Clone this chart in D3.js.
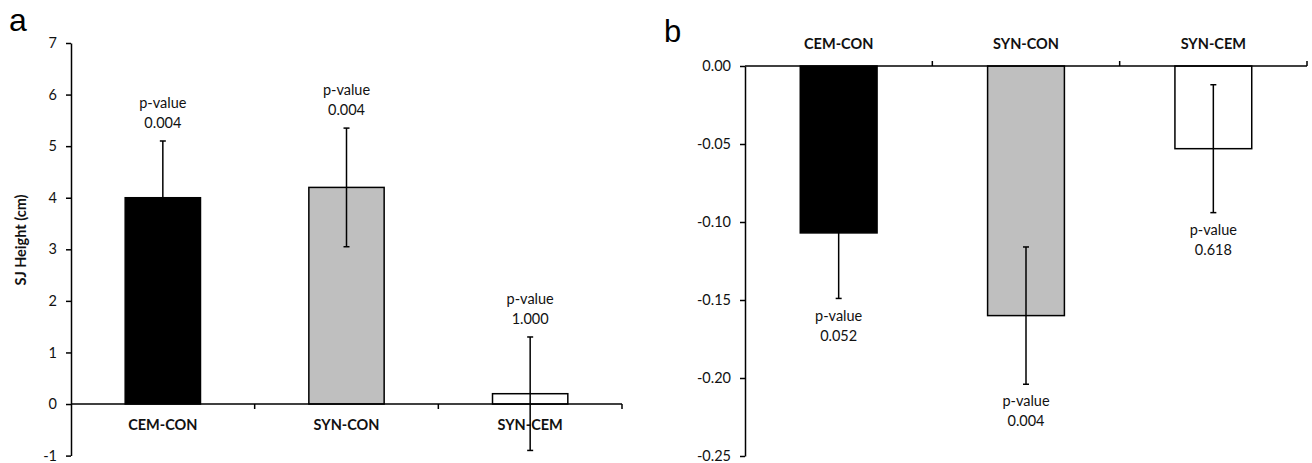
<!DOCTYPE html>
<html>
<head>
<meta charset="utf-8">
<script src="https://cdn.jsdelivr.net/npm/d3@7"></script>
<style>
  body { margin: 0; background: #fff; }
  svg text { font-family: Lato, "Open Sans", sans-serif; fill: #111; }
  .tick text { font-size: 14.5px; }
  .cat { font-size: 14.5px; font-weight: bold; }
  .pval { font-size: 14.5px; }
</style>
</head>
<body>
<div id="chart"></div>
<script>
// chart data
var categories = ["CEM-CON", "SYN-CON", "SYN-CEM"];
var barFills = ["#000000", "#bfbfbf", "#ffffff"];

// panel a: SJ height difference (cm)
var heightDiff = [4.0, 4.2, 0.2];
var heightErr = [1.1, 1.15, 1.1];
var heightP = ["0.004", "0.004", "1.000"];
var heightTicks = [-1, 0, 1, 2, 3, 4, 5, 6, 7];

// panel b
var ratioDiff = [-0.107, -0.160, -0.053];
var ratioErr = [0.042, 0.044, 0.041];
var ratioP = ["0.052", "0.004", "0.618"];
var ratioTicks = [0, -0.05, -0.10, -0.15, -0.20, -0.25];

var svgWidth = 1312;
var svgHeight = 463;

var svg = d3.select("#chart")
  .append("svg")
  .attr("width", svgWidth)
  .attr("height", svgHeight);

// plain hyphen for negatives, like the original
function hyphen(f) {
  return function(d) { return f(d).replace("\u2212", "-"); };
}

function drawPanel(opt) {
  var g = svg.append("g");

  var x = d3.scaleBand()
    .domain(categories)
    .range([opt.left, opt.right])
    .padding(0);

  var y = d3.scaleLinear()
    .domain(opt.domain)
    .range(opt.yRange);

  var barW = x.bandwidth() * 0.41;
  var cx = function(i) { return x(categories[i]) + x.bandwidth() / 2; };

  // y axis
  g.append("g")
    .attr("transform", "translate(" + opt.left + ",0)")
    .call(d3.axisLeft(y).tickValues(opt.ticks).tickFormat(hyphen(opt.fmt))
      .tickSize(5).tickSizeOuter(0).tickPadding(9))
    .call(function(a) {
      a.selectAll("path, line").attr("stroke", "#000").attr("stroke-width", 1.5);
      a.selectAll("text").attr("fill", "#111");
    });

  // bars
  g.selectAll("rect.bar")
    .data(opt.values)
    .enter()
    .append("rect")
    .attr("class", "bar")
    .attr("x", (d, i) => cx(i) - barW / 2)
    .attr("width", barW)
    .attr("y", d => y(Math.max(0, d)))
    .attr("height", d => Math.abs(y(d) - y(0)))
    .attr("fill", (d, i) => barFills[i])
    .attr("stroke", "#000")
    .attr("stroke-width", 1.5);

  // category axis
  var y0 = y(0);
  g.append("line")
    .attr("x1", opt.left).attr("x2", opt.right)
    .attr("y1", y0).attr("y2", y0)
    .attr("stroke", "#000").attr("stroke-width", 1.5);

  g.selectAll("line.sep")
    .data(categories)
    .enter()
    .append("line")
    .attr("class", "sep")
    .attr("x1", d => x(d) + x.step()).attr("x2", d => x(d) + x.step())
    .attr("y1", y0).attr("y2", y0 + opt.tickDir * 5)
    .attr("stroke", "#000").attr("stroke-width", 1.5);

  g.selectAll("text.cat")
    .data(categories)
    .enter()
    .append("text")
    .attr("class", "cat")
    .attr("x", d => x(d) + x.bandwidth() / 2)
    .attr("y", y0 + opt.catOffset)
    .attr("dy", "0.35em")
    .attr("text-anchor", "middle")
    .text(d => d);

  // error bars
  var err = g.selectAll("g.err")
    .data(opt.values)
    .enter()
    .append("g")
    .attr("class", "err")
    .attr("stroke", "#000")
    .attr("stroke-width", 1.5);

  err.append("line")
    .attr("x1", (d, i) => cx(i)).attr("x2", (d, i) => cx(i))
    .attr("y1", (d, i) => y(d + opt.errors[i]))
    .attr("y2", (d, i) => y(d - opt.errors[i]));
  err.append("line")
    .attr("x1", (d, i) => cx(i) - 3).attr("x2", (d, i) => cx(i) + 3)
    .attr("y1", (d, i) => y(d + opt.errors[i]))
    .attr("y2", (d, i) => y(d + opt.errors[i]));
  err.append("line")
    .attr("x1", (d, i) => cx(i) - 3).attr("x2", (d, i) => cx(i) + 3)
    .attr("y1", (d, i) => y(d - opt.errors[i]))
    .attr("y2", (d, i) => y(d - opt.errors[i]));

  // p-value labels
  var lab = g.selectAll("text.pval")
    .data(opt.values)
    .enter()
    .append("text")
    .attr("class", "pval")
    .attr("text-anchor", "middle")
    .attr("x", (d, i) => cx(i))
    .attr("y", function(d, i) {
      return d > 0 ? y(d + opt.errors[i]) - 38 : y(d - opt.errors[i]) + 17;
    });
  lab.append("tspan").attr("dy", "0.35em").text("p-value");
  lab.append("tspan").attr("x", (d, i) => cx(i)).attr("dy", 20).text((d, i) => opt.pvals[i]);

  return g;
}

drawPanel({
  left: 71, right: 622,
  domain: [-1, 7], yRange: [455.6, 43],
  ticks: heightTicks, fmt: d3.format("d"),
  values: heightDiff, errors: heightErr, pvals: heightP,
  tickDir: 1, catOffset: 21
});

drawPanel({
  left: 745, right: 1307,
  domain: [-0.25, 0], yRange: [456, 66],
  ticks: ratioTicks, fmt: d3.format(".2f"),
  values: ratioDiff, errors: ratioErr, pvals: ratioP,
  tickDir: -1, catOffset: -22
});

// y axis title for panel a
svg.append("text")
  .attr("transform", "translate(21,240) rotate(-90)")
  .attr("dy", "0.35em")
  .attr("text-anchor", "middle")
  .style("font-size", "14.5px")
  .style("font-weight", "bold")
  .text("SJ Height (cm)");

// panel letters
svg.append("text")
  .attr("x", 9).attr("y", 31)
  .style("font-family", "'Liberation Sans', Arial, sans-serif")
  .style("font-size", "32px")
  .style("fill", "#000")
  .text("a");

svg.append("text")
  .attr("x", 664).attr("y", 42)
  .style("font-family", "'Liberation Sans', Arial, sans-serif")
  .style("font-size", "31px")
  .style("fill", "#000")
  .text("b");
</script>
</body>
</html>
